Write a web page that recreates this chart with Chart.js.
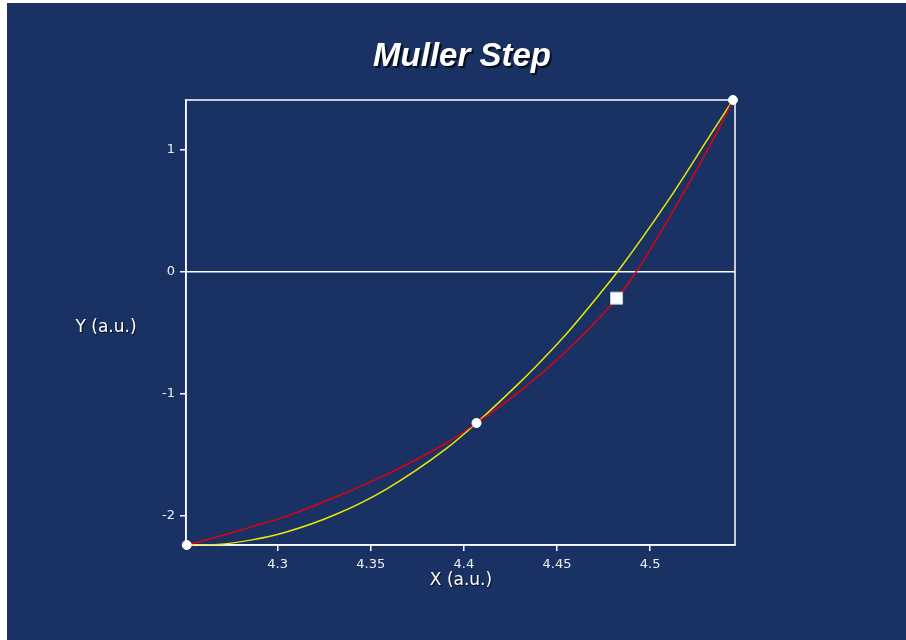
<!DOCTYPE html>
<html>
<head>
<meta charset="utf-8">
<title>Muller Step</title>
<script src="https://cdn.jsdelivr.net/npm/chart.js@4.4.1/dist/chart.umd.min.js"></script>
<style>
    html, body { margin: 0; padding: 0; background: #ffffff; }
    #wrap { position: absolute; left: 7px; top: 3px; width: 899px; height: 637px; background: #1a3263; }
</style>
</head>
<body>
<div id="wrap"><canvas id="mullerChart" width="899" height="637"></canvas></div>
<script>
// Axis ranges and ticks
const xRange = [4.2508, 4.5456];
const yRange = [-2.24, 1.411];
const xTicks = [4.3, 4.35, 4.4, 4.45, 4.5];
const yTicks = [-2, -1, 0, 1];

// Function curve (red)
const redX = [4.2512, 4.2683, 4.2862, 4.3043, 4.3311, 4.3580, 4.3905, 4.4068, 4.4298, 4.4549, 4.4819, 4.4925, 4.5173, 4.5371, 4.5445];
const redY = [-2.24, -2.171, -2.089, -2.007, -1.846, -1.665, -1.403, -1.239, -0.982, -0.65, -0.22, 0, 0.632, 1.181, 1.411];

// Interpolating parabola (yellow)
const yellowX = [4.2512, 4.2683, 4.2862, 4.3043, 4.3311, 4.3580, 4.3905, 4.4068, 4.4298, 4.4368, 4.4549, 4.4730, 4.4824, 4.5103, 4.5318, 4.5445];
const yellowY = [-2.24, -2.235, -2.198, -2.135, -1.99, -1.785, -1.45, -1.239, -0.91, -0.804, -0.51, -0.18, 0, 0.60, 1.11, 1.411];

// The three nodes and the new estimate
const nodeX = [4.2512, 4.4068, 4.5445];
const nodeY = [-2.24, -1.239, 1.411];
const nextX = [4.4820];
const nextY = [-0.215];

function zip(xs, ys) {
    return xs.map((x, i) => ({ x: x, y: ys[i] }));
}

function drawText(ctx, text, x, y, font, off) {
    ctx.save();
    ctx.font = font;
    ctx.textAlign = 'center';
    ctx.textBaseline = 'middle';
    ctx.shadowColor = 'rgba(0, 0, 0, 0.75)';
    ctx.shadowOffsetX = off;
    ctx.shadowOffsetY = off;
    ctx.shadowBlur = 1;
    ctx.fillStyle = '#ffffff';
    ctx.fillText(text, x, y);
    ctx.restore();
}

// frame round the plot area and the text labels
const decorPlugin = {
    id: 'decor',
    beforeDatasetsDraw(chart) {
        const a = chart.chartArea;
        const ctx = chart.ctx;
        ctx.save();
        ctx.strokeStyle = '#ffffff';
        ctx.lineWidth = 1.5;
        ctx.strokeRect(a.left, a.top, a.right - a.left, a.bottom - a.top);
        ctx.restore();
    },
    afterDraw(chart) {
        const ctx = chart.ctx;
        drawText(ctx, 'Muller Step', 455, 54, 'italic bold 33px "Liberation Sans"', 2);
        drawText(ctx, 'X (a.u.)', 454, 578, '17px "DejaVu Sans"', 1);
        drawText(ctx, 'Y (a.u.)', 99, 325, '17px "DejaVu Sans"', 1);
    }
};

const tickFont = { family: 'DejaVu Sans', size: 13 };

const ctx = document.getElementById('mullerChart').getContext('2d');
new Chart(ctx, {
    type: 'scatter',
    data: {
        datasets: [
            {
                data: zip(nodeX, nodeY),
                pointStyle: 'circle',
                pointRadius: 4.5,
                backgroundColor: '#ffffff',
                borderColor: '#ffffff',
                borderWidth: 1,
                showLine: false,
                clip: false,
                order: 0
            },
            {
                data: zip(nextX, nextY),
                pointStyle: 'rect',
                pointRadius: 8.5,
                backgroundColor: '#ffffff',
                borderColor: '#c8c8d0',
                borderWidth: 1,
                showLine: false,
                clip: false,
                order: 0
            },
            {
                data: zip(yellowX, yellowY),
                showLine: true,
                borderColor: '#eaea00',
                borderWidth: 1.5,
                pointRadius: 0,
                cubicInterpolationMode: 'monotone',
                order: 2
            },
            {
                data: zip(redX, redY),
                showLine: true,
                borderColor: '#e00010',
                borderWidth: 1.5,
                pointRadius: 0,
                cubicInterpolationMode: 'monotone',
                order: 1
            }
        ]
    },
    options: {
        responsive: false,
        animation: false,
        events: [],
        layout: {
            padding: { top: 97, right: 171, left: 0, bottom: 0 }
        },
        plugins: {
            legend: { display: false },
            tooltip: { enabled: false },
            title: { display: false }
        },
        scales: {
            x: {
                type: 'linear',
                min: xRange[0],
                max: xRange[1],
                afterBuildTicks: scale => {
                    scale.ticks = xTicks.map(v => ({ value: v }));
                },
                afterFit: scale => {
                    scale.height = 95;
                },
                grid: {
                    drawOnChartArea: false,
                    color: '#ffffff',
                    tickColor: '#ffffff',
                    tickLength: 6,
                    lineWidth: 1.5
                },
                border: { color: '#ffffff', width: 1.5 },
                ticks: {
                    color: '#eeeeee',
                    font: tickFont,
                    padding: 6,
                    maxRotation: 0,
                    callback: v => String(v)
                }
            },
            y: {
                type: 'linear',
                min: yRange[0],
                max: yRange[1],
                afterBuildTicks: scale => {
                    scale.ticks = yTicks.map(v => ({ value: v }));
                },
                afterFit: scale => {
                    scale.width = 179;
                },
                grid: {
                    color: c => (c.tick && c.tick.value === 0) ? '#ffffff' : 'rgba(0,0,0,0)',
                    tickColor: '#ffffff',
                    tickLength: 6,
                    lineWidth: 1.5
                },
                border: { color: '#ffffff', width: 1.5 },
                ticks: {
                    color: '#eeeeee',
                    font: tickFont,
                    padding: 5,
                    callback: v => String(v)
                }
            }
        }
    },
    plugins: [decorPlugin]
});
</script>
</body>
</html>
